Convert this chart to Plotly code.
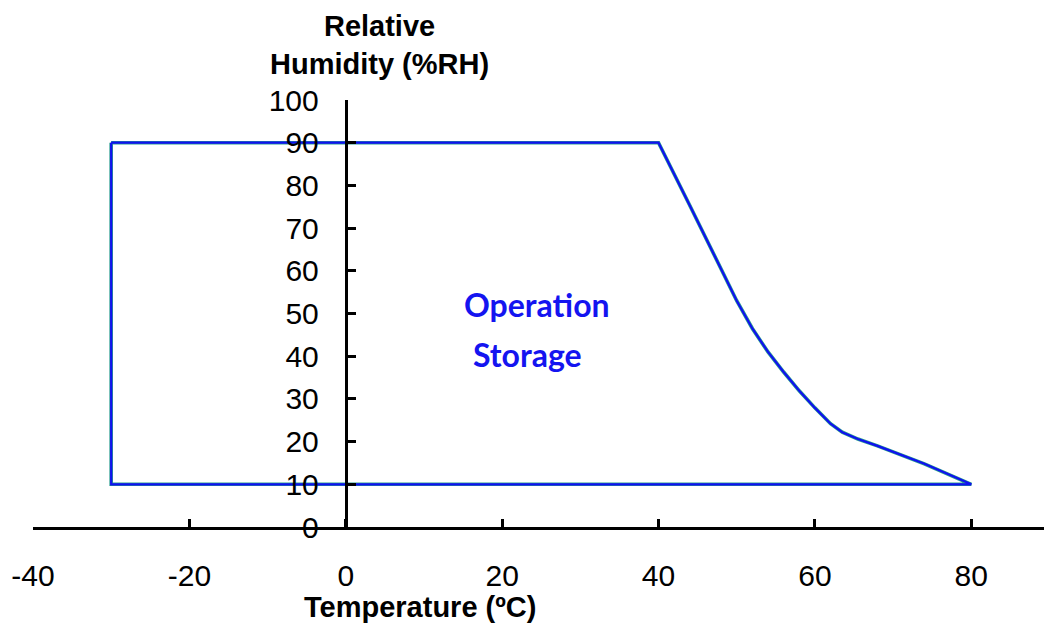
import plotly.graph_objects as go

# Data
temp_c = [-30, 40, 44, 48, 50, 52, 54, 56, 58, 60, 62, 63.5, 65.5, 68, 74, 80, -30, -30]
rh_pct = [90, 90, 75.3, 60.5, 53, 46.5, 41, 36.3, 31.9, 27.9, 24.2, 22.2, 20.6, 19, 14.8, 10, 10, 90]
series_names = ["Storage", "Operation"]
x_ticks = [-40, -20, 0, 20, 40, 60, 80]
x_tick_text = ["-40", "-20", "0", "20", "40", "60", "80"]
y_ticks = [0, 10, 20, 30, 40, 50, 60, 70, 80, 90, 100]

W, H = 1044, 628
L, R, T, B = 33, 0, 100, 101
x_min, x_max = -40, 89.3

fig = go.Figure()
fig.add_trace(go.Scatter(x=temp_c, y=rh_pct, mode="lines", name=series_names[0],
                         line=dict(color="#2a9d8f", width=3.6), showlegend=False,
                         hoverinfo="skip"))
fig.add_trace(go.Scatter(x=temp_c, y=rh_pct, mode="lines", name=series_names[1],
                         line=dict(color="#1010f0", width=2.2), showlegend=False))

tick_font = dict(family="Liberation Sans, Arial", size=30, color="#000")
yaxis_pos = (0 - x_min) / (x_max - x_min)

fig.update_layout(
    width=W, height=H,
    margin=dict(l=L, r=R, t=T, b=B, pad=0),
    plot_bgcolor="white", paper_bgcolor="white",
    xaxis=dict(range=[x_min, x_max], tickvals=x_ticks, ticktext=x_tick_text,
               ticks="inside", ticklen=8, tickwidth=3, tickcolor="#000",
               showline=True, linecolor="#000", linewidth=3, showgrid=False,
               zeroline=False, tickfont=tick_font, ticklabelstandoff=20),
    yaxis=dict(range=[0, 100], tickvals=y_ticks, ticks="inside", ticklen=8,
               tickwidth=3, tickcolor="#000", showline=True, linecolor="#000",
               linewidth=3, showgrid=False, zeroline=False, tickfont=tick_font,
               anchor="free", position=yaxis_pos, ticklabelstandoff=20),
    font=dict(family="Liberation Sans, Arial", color="#000"),
)

fig.add_annotation(text="<b>Relative<br>Humidity (%RH)</b>", xref="paper", yref="paper",
                   x=(379 - L) / (W - L - R), y=(527 - 45) / 427, xanchor="center",
                   yanchor="middle", showarrow=False,
                   font=dict(family="Liberation Sans, Arial", size=29, color="#000"))
fig.add_annotation(text="<b>Temperature (ºC)</b>", xref="paper", yref="paper",
                   x=(420 - L) / (W - L - R), y=(527 - 607) / 427, xanchor="center",
                   yanchor="middle", showarrow=False,
                   font=dict(family="Liberation Sans, Arial", size=29, color="#000"))
fig.add_annotation(text="<b>Operation</b>", x=24.5, y=52, xref="x", yref="y",
                   showarrow=False,
                   font=dict(family="Lato", size=32, color="#1414f0"))
fig.add_annotation(text="<b>Storage</b>", x=23.2, y=40.5, xref="x", yref="y",
                   showarrow=False,
                   font=dict(family="Lato", size=32, color="#1414f0"))

fig.write_html("out.html", config={"displayModeBar": False},
               post_script="document.body.style.margin='0';document.body.style.overflow='hidden';")
